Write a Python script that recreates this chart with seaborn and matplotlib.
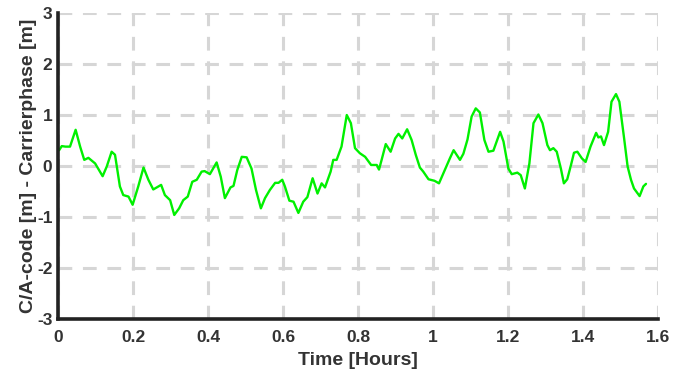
import matplotlib
matplotlib.use("Agg")
import matplotlib.pyplot as plt
import seaborn as sns
import pandas as pd

# Code-minus-carrier residual over the observation window
time_hours = [
    0.003, 0.010, 0.020, 0.032, 0.047, 0.059, 0.070, 0.081, 0.099, 0.119,
    0.130, 0.143, 0.152, 0.165, 0.174, 0.188, 0.199, 0.214, 0.228, 0.241,
    0.254, 0.275, 0.285, 0.299, 0.310, 0.323, 0.334, 0.346, 0.358, 0.370,
    0.383, 0.391, 0.405, 0.423, 0.434, 0.445, 0.460, 0.468, 0.478, 0.490,
    0.503, 0.516, 0.528, 0.541, 0.552, 0.565, 0.579, 0.588, 0.598, 0.605,
    0.617, 0.628, 0.641, 0.654, 0.665, 0.679, 0.692, 0.703, 0.712, 0.727,
    0.734, 0.743, 0.756, 0.770, 0.781, 0.792, 0.805, 0.819, 0.835, 0.850,
    0.856, 0.863, 0.874, 0.887, 0.899, 0.908, 0.918, 0.931, 0.943, 0.954,
    0.965, 0.974, 0.988, 1.004, 1.016, 1.032, 1.045, 1.055, 1.072, 1.081,
    1.092, 1.103, 1.114, 1.125, 1.137, 1.148, 1.161, 1.179, 1.188, 1.201,
    1.210, 1.225, 1.234, 1.245, 1.257, 1.268, 1.281, 1.292, 1.305, 1.312,
    1.321, 1.330, 1.341, 1.349, 1.358, 1.368, 1.376, 1.385, 1.397, 1.407,
    1.420, 1.435, 1.441, 1.448, 1.456, 1.467, 1.476, 1.488, 1.497, 1.509,
    1.519, 1.528, 1.536, 1.551, 1.561, 1.568,
]
residual_m = [
    0.31, 0.39, 0.38, 0.38, 0.71, 0.38, 0.12, 0.16, 0.05, -0.20,
    -0.01, 0.28, 0.22, -0.40, -0.57, -0.60, -0.76, -0.40, -0.03, -0.27,
    -0.46, -0.37, -0.57, -0.67, -0.96, -0.83, -0.67, -0.60, -0.31, -0.27,
    -0.11, -0.10, -0.16, 0.07, -0.21, -0.63, -0.42, -0.39, -0.08, 0.18,
    0.17, -0.05, -0.47, -0.83, -0.63, -0.47, -0.33, -0.33, -0.27, -0.40,
    -0.68, -0.70, -0.92, -0.70, -0.61, -0.24, -0.54, -0.34, -0.42, -0.11,
    0.12, 0.12, 0.38, 1.00, 0.84, 0.35, 0.25, 0.18, 0.02, 0.02,
    -0.07, 0.12, 0.43, 0.28, 0.54, 0.63, 0.54, 0.72, 0.51, 0.22,
    -0.03, -0.11, -0.26, -0.29, -0.34, -0.07, 0.15, 0.31, 0.12, 0.24,
    0.52, 0.97, 1.13, 1.05, 0.51, 0.28, 0.30, 0.67, 0.48, -0.05,
    -0.16, -0.13, -0.18, -0.44, 0.05, 0.84, 1.01, 0.84, 0.41, 0.31,
    0.35, 0.28, -0.05, -0.34, -0.26, 0.02, 0.26, 0.28, 0.15, 0.08,
    0.38, 0.65, 0.56, 0.58, 0.41, 0.67, 1.26, 1.41, 1.26, 0.58,
    -0.01, -0.27, -0.44, -0.59, -0.40, -0.35,
]
x_ticks = [0, 0.2, 0.4, 0.6, 0.8, 1, 1.2, 1.4, 1.6]
x_tick_labels = ["0", "0.2", "0.4", "0.6", "0.8", "1", "1.2", "1.4", "1.6"]
y_ticks = [-3, -2, -1, 0, 1, 2, 3]

df = pd.DataFrame({"t": time_hours, "cmc": residual_m})

sns.set_style("white")
plt.rcParams["font.family"] = ["Liberation Sans", "DejaVu Sans"]
plt.rcParams["font.weight"] = "bold"
plt.rcParams["axes.unicode_minus"] = False

fig = plt.figure(figsize=(6.73, 3.79), dpi=100)
ax = fig.add_axes([0.0862, 0.1583, 0.8915, 0.8074])

sns.lineplot(data=df, x="t", y="cmc", ax=ax, color="#00f000", linewidth=1.7,
             estimator=None, sort=False)
for ln in ax.get_lines():
    ln.set_solid_joinstyle("round")

ax.set_xlim(0, 1.6)
ax.set_ylim(-3, 3)
ax.set_xticks(x_ticks)
ax.set_xticklabels(x_tick_labels)
ax.set_yticks(y_ticks)

ax.grid(True, color="#d6d6d6", linewidth=2.2, linestyle=(0, (4.5, 3.5)))
ax.set_axisbelow(True)

for side in ["top", "right"]:
    ax.spines[side].set_visible(False)
for side in ["left", "bottom"]:
    ax.spines[side].set_color("#222222")
    ax.spines[side].set_linewidth(2.6)

ax.tick_params(axis="both", direction="in", length=4, width=2,
               color="#222222", labelsize=12.5, labelcolor="#333333")
ax.tick_params(axis="x", pad=8)
ax.tick_params(axis="y", pad=4)
for lab in ax.get_xticklabels() + ax.get_yticklabels():
    lab.set_fontweight("bold")

ax.set_xlabel("Time [Hours]", fontsize=14, fontweight="bold", color="#333333",
              labelpad=5)
ax.set_ylabel("C/A-code [m] - Carrierphase [m]", fontsize=14, fontweight="bold",
              color="#333333", labelpad=0)

fig.savefig("out.png", dpi=100)
